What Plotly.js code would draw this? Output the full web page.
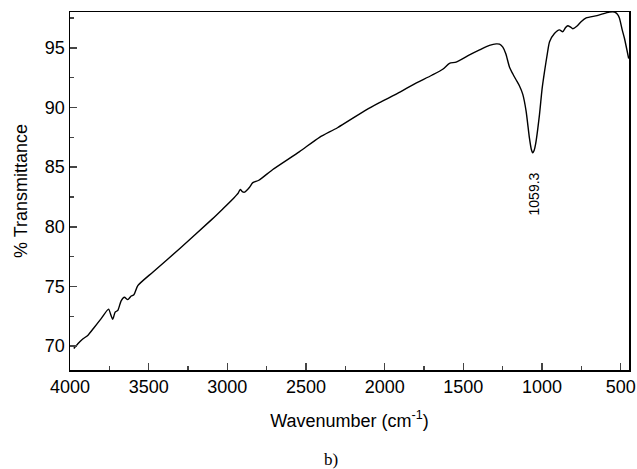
<!DOCTYPE html>
<html>
<head>
<meta charset="utf-8">
<script src="https://cdn.plot.ly/plotly-3.0.1.min.js"></script>
<style>html,body{margin:0;padding:0;background:#fff;}#chart{width:637px;height:469px;}</style>
</head>
<body>
<div id="chart"></div>
<script>
// Wavenumber (cm-1)
const wavenumber = [3976,3950,3919,3887,3850,3802,3755,3740,3728,3713,3696,3675,3654,3633,3611,3594,3569,3474,3300,3100,3029,2960,2930,2918,2905,2891,2860,2838,2800,2711,2541,2414,2300,2117,2033,1900,1821,1700,1631,1588,1546,1461,1400,1334,1291,1270,1249,1230,1207,1185,1164,1143,1122,1101,1080,1068,1059.3,1050,1041,1016,1000,984,965,952,921,889,868,850,836,820,804,779,750,719,650,571,539,520,508,490,476,449];
// % Transmittance
const transmittance = [69.8,70.2,70.6,70.9,71.5,72.3,73.1,72.6,72.25,72.85,73.0,73.8,74.1,73.9,74.2,74.3,75.07,76.2,78.2,80.6,81.5,82.4,82.85,83.14,82.95,82.9,83.3,83.7,83.9,84.8,86.3,87.5,88.3,89.8,90.4,91.3,91.9,92.7,93.2,93.7,93.8,94.4,94.8,95.2,95.33,95.3,95.05,94.5,93.4,92.8,92.3,91.8,91.1,89.7,87.45,86.5,86.2,86.4,86.9,89.4,91.5,93.0,94.6,95.5,96.2,96.5,96.35,96.7,96.85,96.75,96.6,96.8,97.2,97.5,97.7,98.0,98.0,97.8,97.5,96.5,95.8,94.1];
const peakLabel = "1059.3";
const peakX = 1059.3;
const peakY = 86.2;
const xTickVals = [4000,3500,3000,2500,2000,1500,1000,500];
const yTickVals = [70,75,80,85,90,95];

const font = "Arial, 'Liberation Sans', Helvetica, sans-serif";
const trace = {
  x: wavenumber, y: transmittance, type: 'scatter', mode: 'lines',
  line: {color: '#000', width: 1.4, shape: 'spline', smoothing: 0.6},
  hoverinfo: 'skip', showlegend: false
};
const layout = {
  width: 637, height: 469,
  margin: {l: 70, r: 8, t: 12, b: 99},
  paper_bgcolor: '#fff', plot_bgcolor: '#fff',
  font: {family: font, color: '#000', size: 18},
  xaxis: {
    range: [4000, 447], tickvals: xTickVals, ticks: 'inside', ticklen: 7, tickwidth: 1.5,
    showline: true, linewidth: 1.5, linecolor: '#000', mirror: true, showgrid: false, zeroline: false,
    minor: {dtick: 250, tick0: 0, ticks: 'inside', ticklen: 4, tickwidth: 1.5, showgrid: false},
    tickfont: {size: 18, family: font},
    title: {text: 'Wavenumber (cm<sup>-1</sup>)', font: {size: 18, family: font}, standoff: 18}
  },
  yaxis: {
    range: [68, 98], tickvals: yTickVals, ticks: 'inside', ticklen: 7, tickwidth: 1.5,
    showline: true, linewidth: 1.5, linecolor: '#000', mirror: true, showgrid: false, zeroline: false,
    minor: {dtick: 2.5, tick0: 0, ticks: 'inside', ticklen: 4, tickwidth: 1.5, showgrid: false},
    tickfont: {size: 18, family: font},
    title: {text: '% Transmittance', font: {size: 18, family: font}, standoff: 12}
  },
  annotations: [
    {x: peakX, y: peakY, xref: 'x', yref: 'y', text: peakLabel, showarrow: false, textangle: -90,
     yshift: -41, xshift: 1, font: {size: 14, family: font}},
    {x: 0.5, y: 0, xref: 'paper', yref: 'paper', text: 'b)', showarrow: false,
     yshift: -101, xshift: -19, font: {size: 17, family: "'Liberation Serif', 'Times New Roman', serif"}}
  ]
};
Plotly.newPlot('chart', [trace], layout, {staticPlot: true, displayModeBar: false});
</script>
</body>
</html>
